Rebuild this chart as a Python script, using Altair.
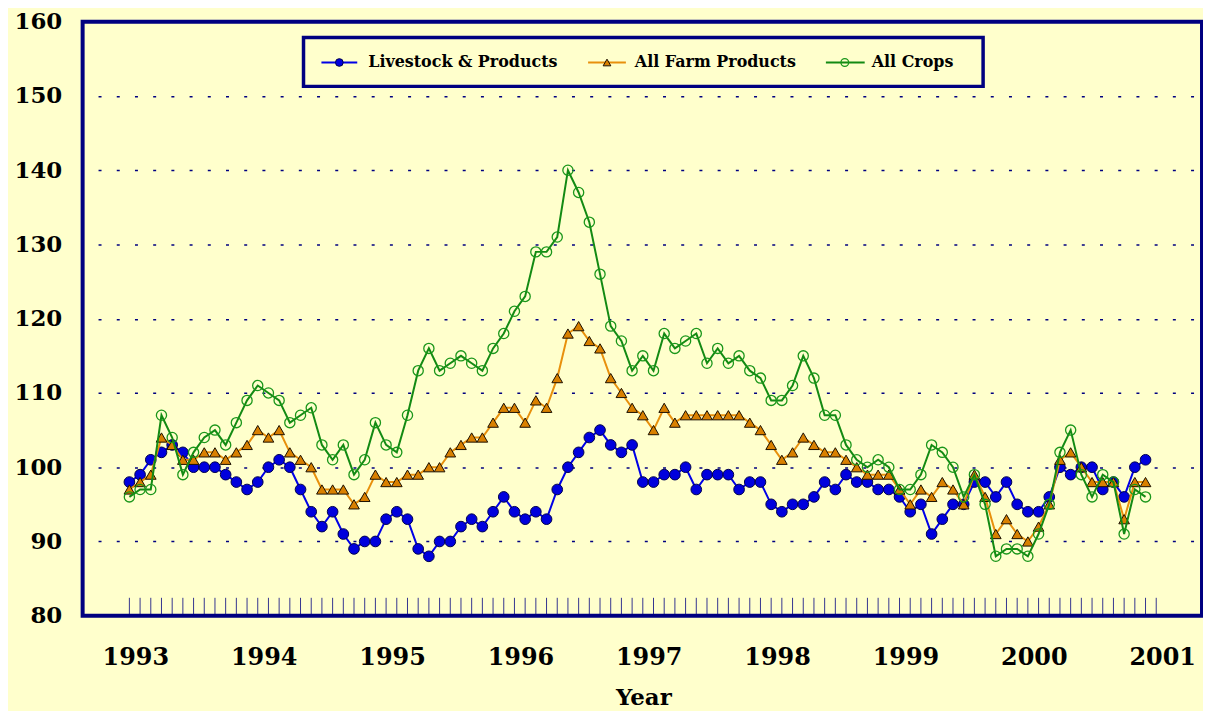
import altair as alt
import pandas as pd

# ---- data (monthly index, Jan 1993 = 0) ----
months = list(range(96))
livestock = [98, 99, 101, 102, 103, 102, 100, 100, 100, 99, 98, 97,
             98, 100, 101, 100, 97, 94, 92, 94, 91, 89, 90, 90,
             93, 94, 93, 89, 88, 90, 90, 92, 93, 92, 94, 96,
             94, 93, 94, 93, 97, 100, 102, 104, 105, 103, 102, 103,
             98, 98, 99, 99, 100, 97, 99, 99, 99, 97, 98, 98,
             95, 94, 95, 95, 96, 98, 97, 99, 98, 98, 97, 97,
             96, 94, 95, 91, 93, 95, 95, 98, 98, 96, 98, 95,
             94, 94, 96, 100, 99, 100, 100, 97, 98, 96, 100, 101]
farm = [97, 98, 99, 104, 103, 101, 101, 102, 102, 101, 102, 103,
        105, 104, 105, 102, 101, 100, 97, 97, 97, 95, 96, 99,
        98, 98, 99, 99, 100, 100, 102, 103, 104, 104, 106, 108,
        108, 106, 109, 108, 112, 118, 119, 117, 116, 112, 110, 108,
        107, 105, 108, 106, 107, 107, 107, 107, 107, 107, 106, 105,
        103, 101, 102, 104, 103, 102, 102, 101, 100, 99, 99, 99,
        97, 95, 97, 96, 98, 97, 95, 99, 96, 91, 93, 91,
        90, 92, 95, 101, 102, 100, 98, 98, 98, 93, 98, 98]
crops = [96, 97, 97, 107, 104, 99, 102, 104, 105, 103, 106, 109,
         111, 110, 109, 106, 107, 108, 103, 101, 103, 99, 101, 106,
         103, 102, 107, 113, 116, 113, 114, 115, 114, 113, 116, 118,
         121, 123, 129, 129, 131, 140, 137, 133, 126, 119, 117, 113,
         115, 113, 118, 116, 117, 118, 114, 116, 114, 115, 113, 112,
         109, 109, 111, 115, 112, 107, 107, 103, 101, 100, 101, 100,
         97, 97, 99, 103, 102, 100, 96, 99, 95, 88, 89, 89,
         88, 91, 95, 102, 105, 99, 96, 99, 98, 91, 97, 96]
series_names = ["Livestock & Products", "All Farm Products", "All Crops"]
year_labels = ["1993", "1994", "1995", "1996", "1997", "1998", "1999", "2000", "2001"]
y_ticks = [80, 90, 100, 110, 120, 130, 140, 150, 160]
tick_months = list(range(97))

# ---- layout ----
W, H = 1125, 597
BG = "#FFFFCC"
NAVY = "#000080"
FONT = "DejaVu Serif"

xs = alt.Scale(domain=[-4.372, 100.28], nice=False, zero=False)
ys = alt.Scale(domain=[80, 160], nice=False, zero=False)
X = alt.X("m:Q", scale=xs, axis=None)
yaxis = alt.Axis(values=y_ticks, grid=True, gridColor=NAVY, gridDash=[3, 15.3],
                 gridDashOffset=2.8, gridWidth=1.5, ticks=False, domain=False,
                 labelFont=FONT, labelFontWeight="bold", labelFontSize=23,
                 labelColor="#000000", labelPadding=21, title=None)
Y = alt.Y("value:Q", scale=ys, axis=yaxis)

styles = [
    dict(line="#0000E6", shape="circle", filled=True, fill="#0000DD", stroke="#00004D", size=115, sw=1),
    dict(line="#E8900C", shape="triangle-up", filled=True, fill="#D98000", stroke="#1A0F00", size=115, sw=1),
    dict(line="#138A13", shape="circle", filled=False, fill="transparent", stroke="#1A961A", size=105, sw=1.3),
]
values = [livestock, farm, crops]
legend_pos = [(240, 276, 258, 287), (508, 546, 527, 555), (747, 786, 766, 793)]

layers = []
# month ticks along the bottom
ticks_df = pd.DataFrame({"m": tick_months, "value": [80] * len(tick_months)})
layers.append(alt.Chart(ticks_df).mark_rule(color=NAVY, strokeWidth=1, opacity=0.8).encode(
    x=X, y=alt.value(H - 18), y2=alt.value(H)))

for name, vals, st in zip(series_names, values, styles):
    d = pd.DataFrame({"m": months, "value": vals})
    base = alt.Chart(d)
    layers.append(base.mark_line(color=st["line"], strokeWidth=2).encode(x=X, y=Y))
    layers.append(base.mark_point(shape=st["shape"], filled=st["filled"], fill=st["fill"],
                                  stroke=st["stroke"], strokeWidth=st["sw"], size=st["size"],
                                  opacity=1).encode(x=X, y=Y))

# legend box
one = pd.DataFrame({"k": [0]})
layers.append(alt.Chart(one).mark_rect(fill=BG, stroke=NAVY, strokeWidth=3.5).encode(
    x=alt.value(222), x2=alt.value(905), y=alt.value(16), y2=alt.value(65)))
for name, st, (x0, x1, xm, xt) in zip(series_names, styles, legend_pos):
    layers.append(alt.Chart(one).mark_rule(color=st["line"], strokeWidth=2).encode(
        x=alt.value(x0), x2=alt.value(x1), y=alt.value(41)))
    layers.append(alt.Chart(one).mark_point(shape=st["shape"], filled=st["filled"], fill=st["fill"],
                                            stroke=st["stroke"], strokeWidth=st["sw"], size=60,
                                            opacity=1).encode(x=alt.value(xm), y=alt.value(41)))
    layers.append(alt.Chart(pd.DataFrame({"t": [name]})).mark_text(
        font=FONT, fontWeight="bold", fontSize=16, align="left", baseline="middle", color="#000000"
    ).encode(x=alt.value(xt), y=alt.value(41), text="t:N"))

# year labels
yr_df = pd.DataFrame({"m": [12 * i + 0.6 for i in range(len(year_labels))], "label": year_labels})
layers.append(alt.Chart(yr_df).mark_text(font=FONT, fontWeight="bold", fontSize=24,
                                         align="center", baseline="middle", color="#000000").encode(
    x=X, y=alt.value(640), text="label:N"))
# axis title
layers.append(alt.Chart(pd.DataFrame({"t": ["Year"]})).mark_text(
    font=FONT, fontWeight="bold", fontSize=23, align="center", baseline="middle", color="#000000"
).encode(x=alt.value(564), y=alt.value(680), text="t:N"))

chart = alt.layer(*layers).properties(
    width=W, height=H, background=BG,
    padding={"left": 75, "top": 12, "right": 1, "bottom": 94},
    autosize=alt.AutoSizeParams(type="none"),
).configure_view(stroke=NAVY, strokeWidth=4, fill=BG)

chart.save("out.html", embed_options={"renderer": "svg", "actions": False})
